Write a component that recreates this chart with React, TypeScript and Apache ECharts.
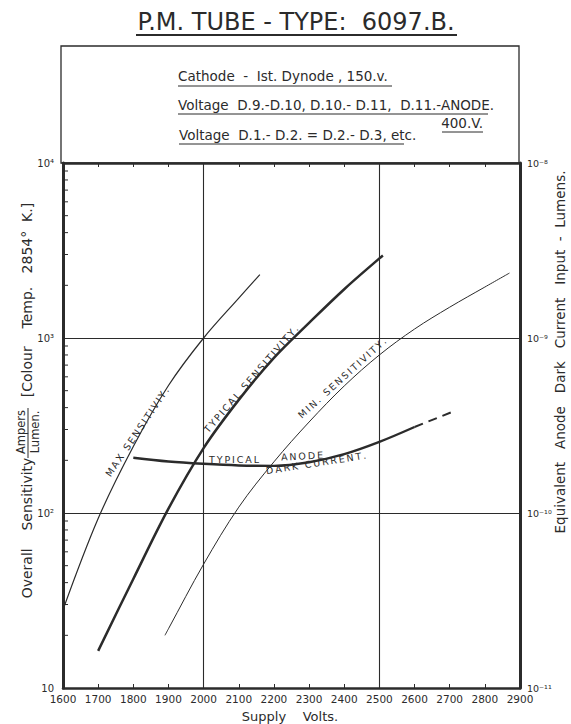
import { useEffect, useRef } from "react";
import * as echarts from "echarts";

// Supply voltage (V) against overall sensitivity (A/lm) for the three sensitivity curves
const maxVolts = [1600, 1700, 1800, 1900, 2000, 2100, 2160];
const maxSensitivity = [28, 93, 240, 535, 1000, 1690, 2300];

const typicalVolts = [1700, 1800, 1900, 2000, 2100, 2200, 2300, 2400, 2500, 2510];
const typicalSensitivity = [16.3, 42, 106, 235, 443, 770, 1220, 1900, 2850, 2960];

const minVolts = [1890, 1900, 2000, 2100, 2200, 2300, 2400, 2500, 2600, 2700, 2800, 2870];
const minSensitivity = [20, 21.8, 51, 108, 196, 331, 532, 800, 1125, 1500, 1955, 2350];

// Equivalent anode dark current input (lm), right-hand scale
const darkVolts = [1800, 1900, 2000, 2100, 2200, 2300, 2400, 2500, 2600];
const darkCurrent = [2.07e-10, 1.97e-10, 1.91e-10, 1.87e-10, 1.86e-10, 1.95e-10, 2.17e-10, 2.55e-10, 3.1e-10];
const darkExtVolts = [2600, 2710];
const darkExtCurrent = [3.1e-10, 3.8e-10];

const leftTickLabels = ["10", "10²", "10³", "10⁴"];
const rightTickLabels = ["10⁻¹¹", "10⁻¹⁰", "10⁻⁹", "10⁻⁸"];
const minorMultipliers = [2, 3, 4, 5, 6, 7, 8, 9];
const minorDecades = [10, 100, 1000];
const gridVolts = [2000, 2500];
const gridSensitivity = [100, 1000];

const INK = "#2b2b2b";
const FONT = "DejaVu Sans";

const zip = (xs: number[], ys: number[]) => xs.map((x, i) => [x, ys[i]]);
const deg = (d: number) => (d * Math.PI) / 180;
// stencil lettering: open the letters up with thin spaces
const spaced = (s: string) => Array.from(s).join("\u2009");

function txt(text: string, x: number, y: number, size: number, rot = 0, align = "center") {
  return {
    type: "text",
    x,
    y,
    rotation: deg(rot),
    silent: true,
    style: {
      text,
      fontSize: size,
      fontFamily: FONT,
      fill: INK,
      align,
      verticalAlign: "middle",
    },
  };
}

function rule(x1: number, y1: number, x2: number, y2: number, w = 1) {
  return {
    type: "line",
    silent: true,
    shape: { x1, y1, x2, y2 },
    style: { stroke: INK, lineWidth: w },
  };
}

export default function App() {
  const ref = useRef<HTMLDivElement>(null);

  useEffect(() => {
    if (!ref.current) return;
    const chart = echarts.init(ref.current, undefined, { renderer: "svg" });

    const minorTicks: number[][] = [];
    minorDecades.forEach((d) => minorMultipliers.forEach((m) => minorTicks.push([1600, m * d])));

    const xCommon = {
      type: "value",
      min: 1600,
      max: 2900,
      interval: 100,
      splitLine: { show: false },
      axisLine: { show: true, lineStyle: { color: INK, width: 2.5 } },
      axisTick: { show: true, inside: true, length: 4, lineStyle: { color: INK, width: 1 } },
    };

    const option: any = {
      animation: false,
      backgroundColor: "#ffffff",
      grid: { left: 63, right: 51, top: 163, bottom: 36, containLabel: false },
      xAxis: [
        {
          ...xCommon,
          position: "bottom",
          axisLabel: {
            color: INK,
            fontSize: 10.5,
            fontFamily: FONT,
            margin: 5,
            formatter: (v: number) => String(v),
          },
        },
        {
          ...xCommon,
          position: "top",
          axisLabel: { show: false },
        },
      ],
      yAxis: [
        {
          type: "log",
          logBase: 10,
          min: 10,
          max: 10000,
          position: "left",
          splitLine: { show: false },
          axisTick: { show: false },
          axisLine: { show: true, lineStyle: { color: INK, width: 3 } },
          axisLabel: {
            color: INK,
            fontSize: 10,
            fontFamily: FONT,
            margin: 9,
            verticalAlign: "middle",
            formatter: (v: number) => leftTickLabels[Math.round(Math.log10(v)) - 1] ?? "",
          },
        },
        {
          type: "log",
          logBase: 10,
          min: 1e-11,
          max: 1e-8,
          position: "right",
          splitLine: { show: false },
          axisTick: { show: false },
          axisLine: { show: true, lineStyle: { color: INK, width: 3 } },
          axisLabel: {
            color: INK,
            fontSize: 9.5,
            fontFamily: FONT,
            margin: 7,
            verticalAlign: "middle",
            padding: [0, 0, 3, 0],
            formatter: (v: number) => rightTickLabels[Math.round(Math.log10(v)) + 11] ?? "",
          },
        },
      ],
      series: [
        {
          name: "Max. Sensitivity",
          type: "line",
          xAxisIndex: 0,
          yAxisIndex: 0,
          data: zip(maxVolts, maxSensitivity),
          symbol: "none",
          smooth: 0.35,
          lineStyle: { color: INK, width: 1.2 },
          markLine: {
            silent: true,
            symbol: ["none", "none"],
            label: { show: false },
            lineStyle: { color: INK, width: 1.1, type: "solid" },
            data: [
              ...gridVolts.map((v) => ({ xAxis: v })),
              ...gridSensitivity.map((s) => ({ yAxis: s })),
            ],
          },
        },
        {
          name: "Typical Sensitivity",
          type: "line",
          xAxisIndex: 0,
          yAxisIndex: 0,
          data: zip(typicalVolts, typicalSensitivity),
          symbol: "none",
          smooth: 0.35,
          lineStyle: { color: INK, width: 2.5 },
        },
        {
          name: "Min. Sensitivity",
          type: "line",
          xAxisIndex: 0,
          yAxisIndex: 0,
          data: zip(minVolts, minSensitivity),
          symbol: "none",
          smooth: 0.35,
          lineStyle: { color: INK, width: 1 },
        },
        {
          name: "Typical Anode Dark Current",
          type: "line",
          xAxisIndex: 0,
          yAxisIndex: 1,
          data: zip(darkVolts, darkCurrent),
          symbol: "none",
          smooth: 0.35,
          lineStyle: { color: INK, width: 2.4 },
        },
        {
          name: "Dark Current (extrapolated)",
          type: "line",
          xAxisIndex: 0,
          yAxisIndex: 1,
          data: zip(darkExtVolts, darkExtCurrent),
          symbol: "none",
          lineStyle: { color: INK, width: 2, type: [9, 6] },
        },
        {
          name: "minor ticks",
          type: "custom",
          xAxisIndex: 0,
          yAxisIndex: 0,
          silent: true,
          data: minorTicks,
          renderItem: (_p: any, api: any) => {
            const pt = api.coord([api.value(0), api.value(1)]);
            return {
              type: "line",
              shape: { x1: pt[0], y1: pt[1], x2: pt[0] + 5, y2: pt[1] },
              style: { stroke: INK, lineWidth: 1 },
            };
          },
        },
      ],
      graphic: [
        // heading
        txt("P.M. TUBE - TYPE:  6097.B.", 296, 22, 24),
        rule(136, 35, 457, 35, 2),
        // conditions box
        {
          type: "rect",
          silent: true,
          shape: { x: 61, y: 46, width: 458, height: 117 },
          style: { fill: "none", stroke: INK, lineWidth: 1.3 },
        },
        txt("Cathode  -  Ist. Dynode , 150.v.", 178, 76, 13.5, 0, "left"),
        rule(178, 86, 392, 86, 1),
        txt("Voltage  D.9.-D.10, D.10.- D.11,  D.11.-ANODE.", 178, 105, 13.5, 0, "left"),
        rule(178, 114, 488, 114, 1),
        txt("400.V.", 483, 123, 13.5, 0, "right"),
        rule(442, 132, 483, 132, 1),
        txt("Voltage  D.1.- D.2. = D.2.- D.3, etc.", 179, 135, 13.5, 0, "left"),
        rule(179, 144, 404, 144, 1),
        // left axis title
        txt("Overall    Sensitivity", 27, 528, 14, 90),
        txt("Ampers", 21, 432, 11.5, 90),
        rule(28, 408, 28, 458, 1),
        txt("Lumen.", 35, 432, 11.5, 90),
        txt("[Colour    Temp.   2854°  K.]", 27, 300, 14, 90),
        // right axis title
        txt("Equivalent   Anode   Dark   Current   Input  -  Lumens.", 560, 352, 13.5, 90),
        // x axis title
        txt("Supply    Volts.", 290, 716, 13),
        // curve annotations
        txt(spaced("MAX SENSITIVIY."), 137, 432, 9.5, 56),
        txt(spaced("TYPICAL SENSITIVITY."), 251, 379, 9.5, 49),
        txt(spaced("MIN. SENSITIVITY."), 342, 378, 9.5, 42),
        txt(spaced("TYPICAL"), 234, 459, 9.5),
        txt(spaced("ANODE"), 302, 456, 9.5, 3),
        txt(spaced("DARK CURRENT."), 316, 463, 9.5, 9),
      ],
    };

    chart.setOption(option);
    return () => chart.dispose();
  }, []);

  return (
    <div
      ref={ref}
      style={{ position: "fixed", left: 0, top: 0, width: 571, height: 724, background: "#fff" }}
    />
  );
}
